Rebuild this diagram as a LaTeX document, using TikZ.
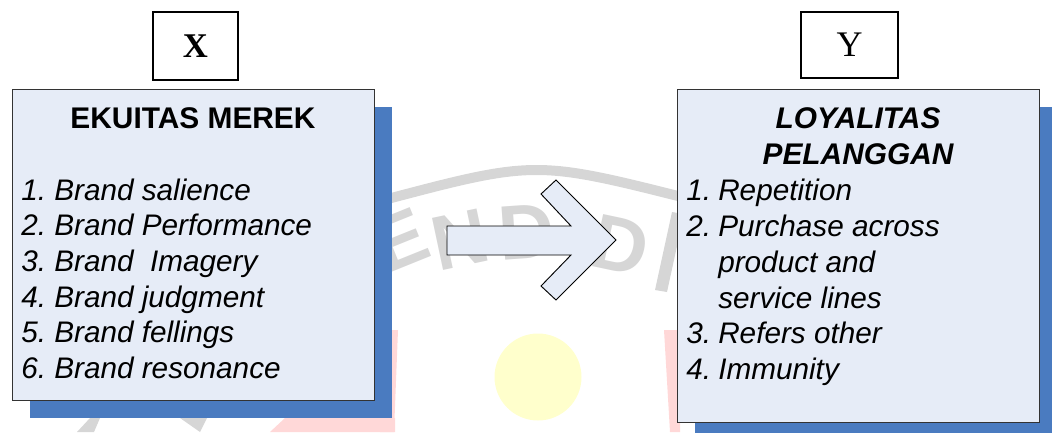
\documentclass[tikz,border=0pt]{standalone}
\usepackage{fontspec}
\setmainfont{Liberation Sans}
\newfontfamily\tnr{Liberation Serif}
\definecolor{boxfill}{HTML}{E6ECF7}
\definecolor{shadowblue}{HTML}{4A7BC0}
\definecolor{wmgray}{HTML}{D6D6D6}
\definecolor{wmyellow}{HTML}{FFFFCC}
\definecolor{wmred}{HTML}{FFD8D8}
\tikzset{
  mainbox/.style={draw=black!80, fill=boxfill, line width=0.75pt, inner sep=0pt, anchor=north west},
  shadowbox/.style={fill=shadowblue, draw=none, inner sep=0pt, anchor=north west},
  varbox/.style={draw=black, fill=white, line width=1.5pt, inner sep=0pt, anchor=north west},
  blockarrow/.style={draw=black, fill=boxfill, line width=0.7pt, line join=miter},
  item/.style={anchor=base west, inner sep=0pt, font=\fontsize{22.3}{26}\selectfont\itshape},
  titletext/.style={anchor=base, inner sep=0pt, font=\fontsize{22.4}{26}\selectfont\bfseries},
  wmletter/.style={text=wmgray, inner sep=0pt, font=\fontsize{58}{58}\selectfont\bfseries}
}
\begin{document}
\begin{tikzpicture}[x=0.75pt, y=-0.75pt]
\useasboundingbox (0,0) rectangle (1052,432);
\clip (0,0) rectangle (1052,432);
% watermark (faint)
\draw[wmgray, line width=7.5pt] (380,201) .. controls (535,160) .. (690,199);
\node[wmletter, rotate=22] (wE) at (400,240) {E};
\node[wmletter, rotate=12] (wN) at (460,240) {N};
\node[wmletter, rotate=4] (wD) at (526,232) {D};
\node[wmletter, rotate=-12] (wD2) at (620,245) {D};
\fill[wmgray] (655,290) -- (667,292) -- (684,214) -- (672,212) -- cycle;
\fill[wmyellow] (538,377) circle (43.5);
\fill[wmred] (380,330) -- (398,330) -- (394,432) -- (380,432) -- cycle;
\fill[wmred] (664,330) -- (680,330) -- (680,432) -- (670,432) -- cycle;
\fill[wmred] (270,432) -- (285,418) -- (395,418) -- (395,432) -- cycle;
\fill[wmgray] (77,432) -- (90,418) -- (100,418) -- (94,432) -- cycle;
\fill[wmgray] (180,418) -- (207,418) -- (200,432) -- cycle;
% left block
\node[shadowbox, minimum width=271.5pt, minimum height=233.25pt] (ekuitasshadow) at (30,107) {};
\node[mainbox, minimum width=271.5pt, minimum height=233.25pt] (ekuitas) at (12,89) {};
\node[varbox, minimum width=63.75pt, minimum height=51pt] (xbox) at (152,11) {};
\node[inner sep=0pt, font=\tnr\fontsize{26}{30}\selectfont\bfseries] (xlabel) at (xbox.center) {X};
\node[titletext] (ektitle) at (193,128) {EKUITAS MEREK};
\foreach \n/\t [count=\i from 0] in {1/Brand salience, 2/Brand Performance, 3/Brand\ \ Imagery, 4/Brand judgment, 5/Brand fellings, 6/Brand resonance}{
  \node[item] (eknum\n) at (21,200+35.7*\i) {\n.};
  \node[item] (ektext\n) at (54,200+35.7*\i) {\t};
}
% arrow
\draw[blockarrow] (447,226) -- (571,226) -- (541,194) -- (556,180) -- (616,240) -- (556,300) -- (541,286) -- (571,255) -- (447,255) -- cycle;
% right block
\node[shadowbox, minimum width=271.5pt, minimum height=249.75pt] (loyalshadow) at (695,107) {};
\node[mainbox, minimum width=271.5pt, minimum height=249.75pt] (loyal) at (677,89) {};
\node[varbox, minimum width=72.75pt, minimum height=49.5pt] (ybox) at (800,11) {};
\node[inner sep=0pt, font=\tnr\fontsize{27}{31}\selectfont] (ylabel) at (ybox.center) {Y};
\node[titletext, font=\fontsize{22.4}{26}\selectfont\bfseries\itshape] (lytitle1) at (858,128) {LOYALITAS};
\node[titletext, font=\fontsize{22.4}{26}\selectfont\bfseries\itshape] (lytitle2) at (858,164) {PELANGGAN};
\node[item] (lynum1) at (686,200) {1.};
\node[item] (lytext1) at (718,200) {Repetition};
\node[item] (lynum2) at (686,236) {2.};
\node[item] (lytext2) at (718,236) {Purchase across};
\node[item] (lytext2b) at (718,272) {product and};
\node[item] (lytext2c) at (718,308) {service lines};
\node[item] (lynum3) at (686,343) {3.};
\node[item] (lytext3) at (718,343) {Refers other};
\node[item] (lynum4) at (686,379) {4.};
\node[item] (lytext4) at (718,379) {Immunity};
\end{tikzpicture}
\end{document}
